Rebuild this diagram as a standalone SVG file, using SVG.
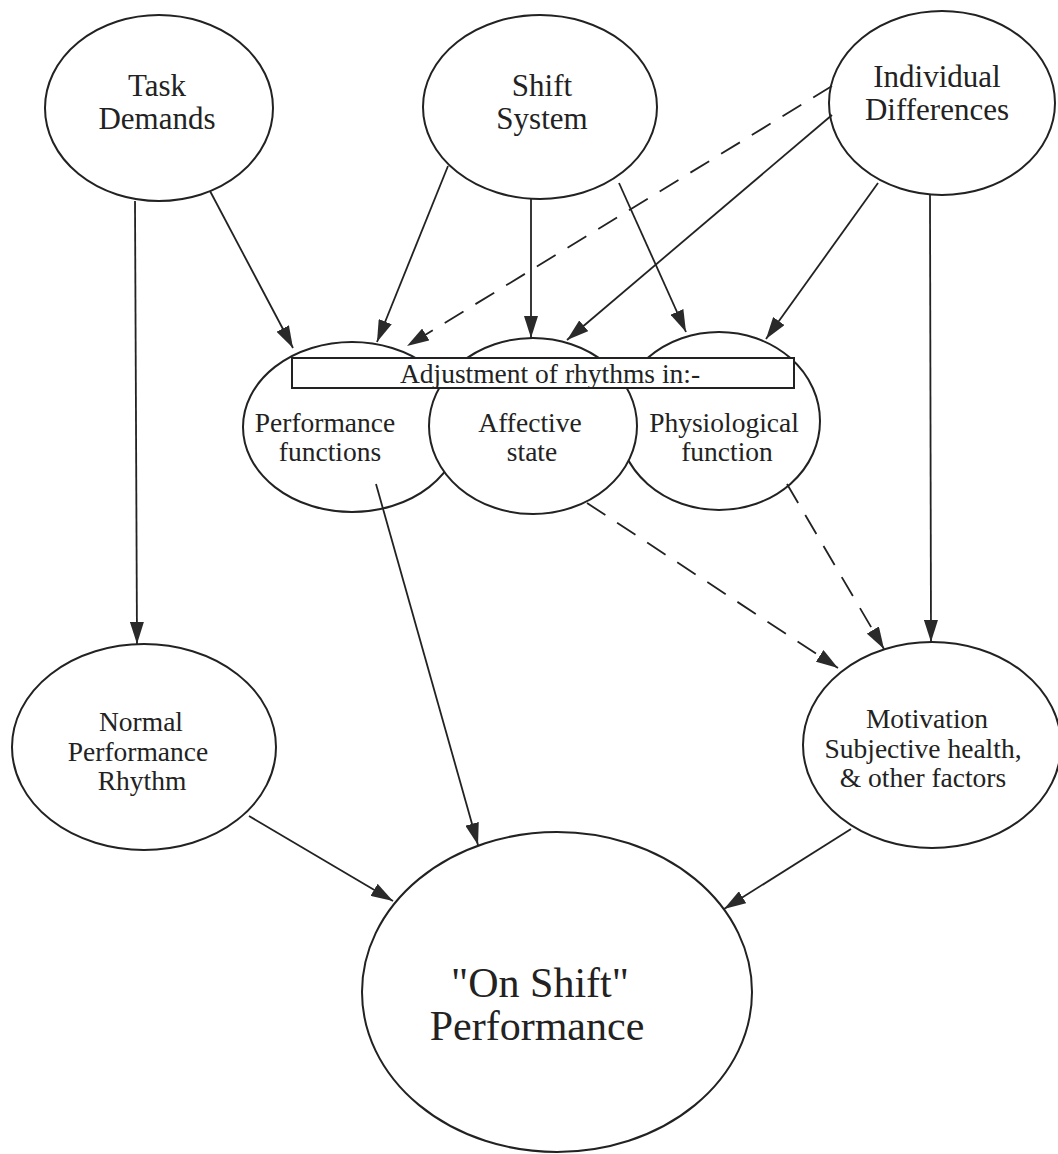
<svg xmlns="http://www.w3.org/2000/svg" width="1058" height="1154" viewBox="0 0 1058 1154">
<defs>
<style>
.node{fill:#fff;stroke:#222;stroke-width:2}
.t{font-family:"Liberation Serif","Times New Roman",serif;fill:#222;text-anchor:middle}
.big{font-size:31px}
.mid{font-size:27.5px}
.huge{font-size:42px}
.c{stroke:#222;stroke-width:1.8;fill:none;marker-end:url(#ah)}
.d{stroke-dasharray:22 14}
</style>
<marker id="ah" markerUnits="userSpaceOnUse" markerWidth="24" markerHeight="14" refX="22" refY="7" orient="auto">
<path d="M0,0 L22,7 L0,14 z" fill="#2a2a2a"/>
</marker>
</defs>
<rect width="1058" height="1154" fill="#fff"/>

<g id="task-demands">
<ellipse class="node" cx="159" cy="108" rx="114" ry="93"/>
<text class="t big" x="157" y="96">Task</text>
<text class="t big" x="157" y="129">Demands</text>
</g>
<g id="shift-system">
<ellipse class="node" cx="540" cy="107" rx="117" ry="92"/>
<text class="t big" x="542" y="96">Shift</text>
<text class="t big" x="542" y="129">System</text>
</g>
<g id="individual-differences">
<ellipse class="node" cx="942" cy="103" rx="113" ry="92"/>
<text class="t big" x="937" y="87">Individual</text>
<text class="t big" x="937" y="120">Differences</text>
</g>

<g id="adjustment-cluster">
<g id="performance-functions">
<ellipse class="node" cx="352" cy="427" rx="109" ry="85"/>
<text class="t mid" x="325" y="432">Performance</text>
<text class="t mid" x="330" y="461">functions</text>
</g>
<g id="physiological-function">
<ellipse class="node" cx="719" cy="421" rx="101" ry="89"/>
<text class="t mid" x="724" y="432">Physiological</text>
<text class="t mid" x="727" y="461">function</text>
</g>
<g id="affective-state">
<ellipse class="node" cx="533" cy="426" rx="104" ry="88"/>
<text class="t mid" x="530" y="432">Affective</text>
<text class="t mid" x="532" y="461">state</text>
</g>
<g id="adjustment-label">
<rect x="292" y="358" width="502" height="30" fill="#fff" stroke="#222" stroke-width="2"/>
<text class="t mid" x="550" y="383">Adjustment of rhythms in:-</text>
</g>
</g>

<g id="normal-performance-rhythm">
<ellipse class="node" cx="144" cy="747" rx="132" ry="103"/>
<text class="t mid" x="141" y="731">Normal</text>
<text class="t mid" x="138" y="761">Performance</text>
<text class="t mid" x="142" y="790">Rhythm</text>
</g>
<g id="motivation">
<ellipse class="node" cx="932" cy="745" rx="129" ry="103"/>
<text class="t mid" x="927" y="728">Motivation</text>
<text class="t mid" x="923" y="758">Subjective health,</text>
<text class="t mid" x="923" y="787">&amp; other factors</text>
</g>
<g id="on-shift-performance">
<ellipse class="node" cx="557" cy="992" rx="195" ry="160"/>
<text class="t huge" x="540" y="997">"On Shift"</text>
<text class="t huge" x="537" y="1040">Performance</text>
</g>

<g id="connectors">
<line class="c" x1="210" y1="191" x2="293" y2="348"/>
<line class="c" x1="135" y1="201" x2="137" y2="644"/>
<line class="c" x1="448" y1="166" x2="377" y2="342"/>
<line class="c" x1="531" y1="199" x2="531" y2="338"/>
<line class="c" x1="619" y1="183" x2="686" y2="332"/>
<line class="c d" x1="832" y1="86" x2="407" y2="346"/>
<line class="c" x1="832" y1="115" x2="567" y2="340"/>
<line class="c" x1="878" y1="183" x2="766" y2="339"/>
<line class="c" x1="930" y1="195" x2="931" y2="642"/>
<line class="c d" x1="587" y1="503" x2="838" y2="668"/>
<line class="c d" x1="787" y1="484" x2="884" y2="649"/>
<line class="c" x1="376" y1="484" x2="478" y2="845"/>
<line class="c" x1="249" y1="816" x2="393" y2="901"/>
<line class="c" x1="851" y1="829" x2="724" y2="909"/>
</g>
</svg>
